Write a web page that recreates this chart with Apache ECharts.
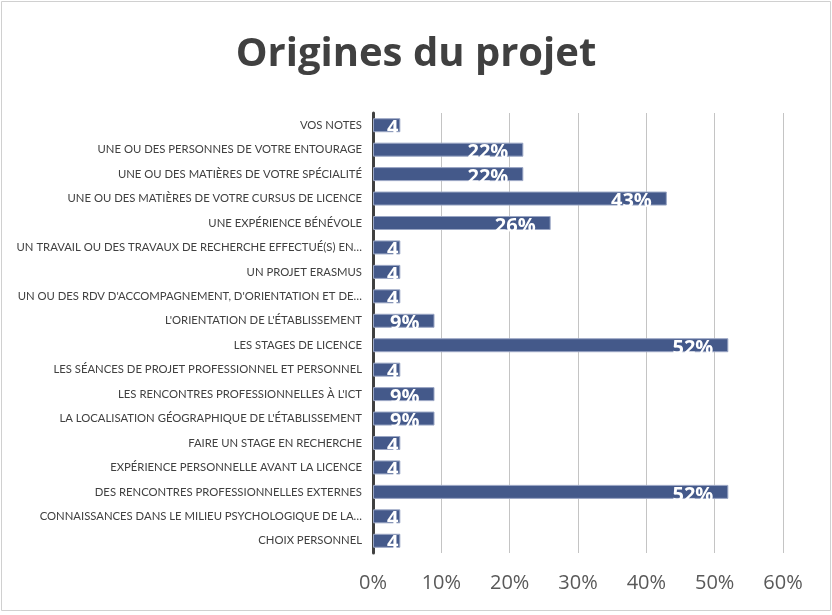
<!DOCTYPE html>
<html>
<head>
<meta charset="utf-8">
<script src="https://cdn.jsdelivr.net/npm/echarts@6/dist/echarts.min.js"></script>
<style>
  html, body { margin: 0; padding: 0; background: #fff; }
  #chart { width: 832px; height: 615px; }
</style>
</head>
<body>
<div id="chart"></div>
<script>
// catégories, de haut en bas
const categories = [
  "VOS NOTES",
  "UNE OU DES PERSONNES DE VOTRE ENTOURAGE",
  "UNE OU DES MATIÈRES DE VOTRE SPÉCIALITÉ",
  "UNE OU DES MATIÈRES DE VOTRE CURSUS DE LICENCE",
  "UNE EXPÉRIENCE BÉNÉVOLE",
  "UN TRAVAIL OU DES TRAVAUX DE RECHERCHE EFFECTUÉ(S) EN…",
  "UN PROJET ERASMUS",
  "UN OU DES RDV D'ACCOMPAGNEMENT, D'ORIENTATION ET DE…",
  "L'ORIENTATION DE L'ÉTABLISSEMENT",
  "LES STAGES DE LICENCE",
  "LES SÉANCES DE PROJET PROFESSIONNEL ET PERSONNEL",
  "LES RENCONTRES PROFESSIONNELLES À L'ICT",
  "LA LOCALISATION GÉOGRAPHIQUE DE L'ÉTABLISSEMENT",
  "FAIRE UN STAGE EN RECHERCHE",
  "EXPÉRIENCE PERSONNELLE AVANT LA LICENCE",
  "DES RENCONTRES PROFESSIONNELLES EXTERNES",
  "CONNAISSANCES DANS LE MILIEU PSYCHOLOGIQUE DE LA…",
  "CHOIX PERSONNEL"
];
// pourcentages
const values = [4, 22, 22, 43, 26, 4, 4, 4, 9, 52, 4, 9, 9, 4, 4, 52, 4, 4];
const xMax = 60;
const xStep = 10;

const chart = echarts.init(document.getElementById("chart"));

// pxPerUnit connu seulement après un premier rendu : sert à couper les étiquettes trop larges
function buildOption(pxPerUnit) {
  return {
    animation: false,
    backgroundColor: "#fff",
    title: {
      text: "Origines du projet",
      left: "center",
      top: 30,
      textStyle: { fontFamily: "Open Sans", fontWeight: "bold", fontSize: 40, color: "#404040" }
    },
    graphic: [{
      type: "rect",
      shape: { x: 1.5, y: 1.5, width: 829, height: 609 },
      style: { fill: "none", stroke: "#d0d0d0", lineWidth: 1 },
      silent: true
    }],
    grid: { left: 373, right: 49, top: 113, bottom: 62, containLabel: false },
    xAxis: {
      type: "value",
      min: 0,
      max: xMax,
      interval: xStep,
      axisLine: { show: false },
      axisTick: { show: false },
      splitLine: { lineStyle: { color: "#c4c4c4", width: 1 } },
      axisLabel: {
        formatter: "{value}%",
        fontFamily: "Open Sans",
        fontSize: 20,
        color: "#595959",
        margin: 20
      }
    },
    yAxis: {
      type: "category",
      inverse: true,
      data: categories,
      axisLine: { show: true, lineStyle: { color: "#404040", width: 3 } },
      axisTick: { show: false },
      axisLabel: {
        fontFamily: "Lato",
        fontSize: 11.3,
        color: "#404040",
        margin: 11
      }
    },
    series: [{
      type: "bar",
      barWidth: 14,
      data: values.map(v => {
        const barPx = pxPerUnit ? v * pxPerUnit : 999;
        const narrow = barPx < 45;
        return {
          value: v,
          label: {
            distance: narrow ? 2 : 15,
            width: narrow ? Math.max(barPx - 5, 1) : undefined,
            overflow: narrow ? "truncate" : "none",
            ellipsis: ""
          }
        };
      }),
      itemStyle: { color: "#44598a", borderColor: "#9aa6c4", borderWidth: 1 },
      label: {
        show: true,
        position: "insideRight",
        offset: [0, 3],
        formatter: p => p.value + "%",
        fontFamily: "Open Sans",
        fontWeight: "bold",
        fontSize: 20,
        color: "#fff"
      }
    }]
  };
}

chart.setOption(buildOption(null));
const pxPerUnit = (chart.convertToPixel({ xAxisIndex: 0 }, xMax) - chart.convertToPixel({ xAxisIndex: 0 }, 0)) / xMax;
chart.setOption(buildOption(pxPerUnit));
</script>
</body>
</html>
